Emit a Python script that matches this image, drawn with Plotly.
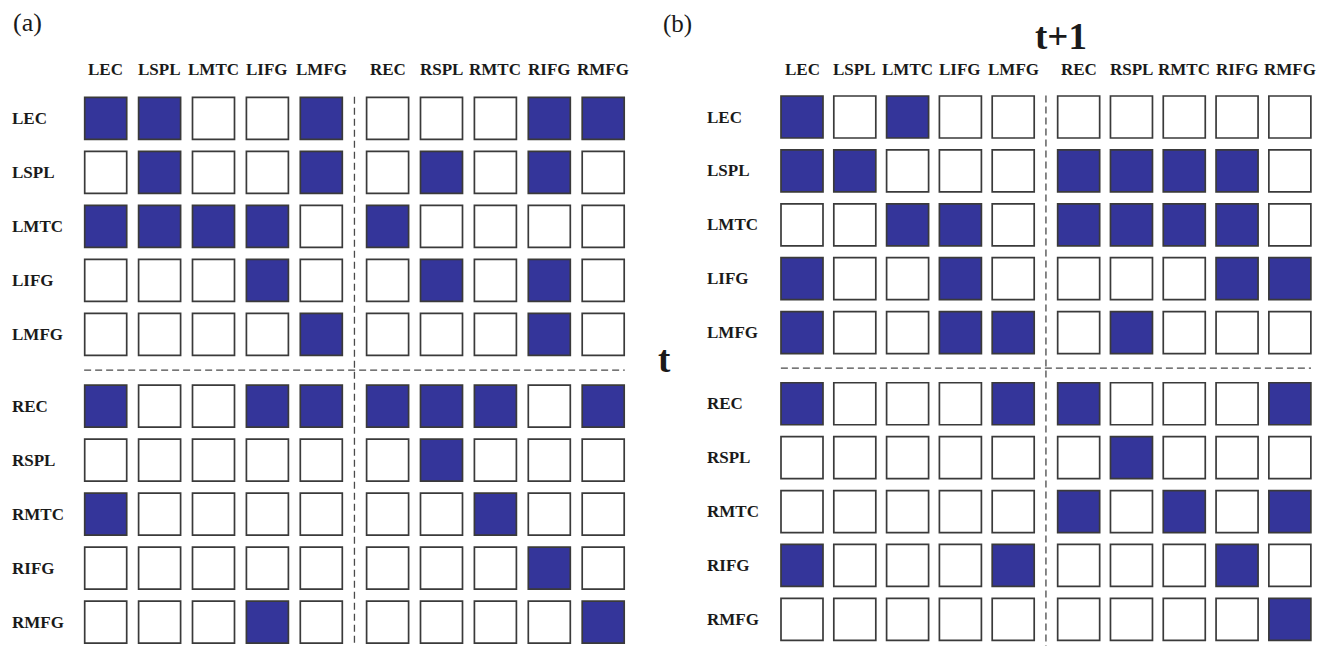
import plotly.graph_objects as go

# ---------------- data ----------------
regions = ["LEC", "LSPL", "LMTC", "LIFG", "LMFG", "REC", "RSPL", "RMTC", "RIFG", "RMFG"]

# panel (a): rows = source region, cols = target region (1 = connection)
conn_a = [
    [1, 1, 0, 0, 1, 0, 0, 0, 1, 1],
    [0, 1, 0, 0, 1, 0, 1, 0, 1, 0],
    [1, 1, 1, 1, 0, 1, 0, 0, 0, 0],
    [0, 0, 0, 1, 0, 0, 1, 0, 1, 0],
    [0, 0, 0, 0, 1, 0, 0, 0, 1, 0],
    [1, 0, 0, 1, 1, 1, 1, 1, 0, 1],
    [0, 0, 0, 0, 0, 0, 1, 0, 0, 0],
    [1, 0, 0, 0, 0, 0, 0, 1, 0, 0],
    [0, 0, 0, 0, 0, 0, 0, 0, 1, 0],
    [0, 0, 0, 1, 0, 0, 0, 0, 0, 1],
]

# panel (b): rows = time t, cols = time t+1
conn_b = [
    [1, 0, 1, 0, 0, 0, 0, 0, 0, 0],
    [1, 1, 0, 0, 0, 1, 1, 1, 1, 0],
    [0, 0, 1, 1, 0, 1, 1, 1, 1, 0],
    [1, 0, 0, 1, 0, 0, 0, 0, 1, 1],
    [1, 0, 0, 1, 1, 0, 1, 0, 0, 0],
    [1, 0, 0, 0, 1, 1, 0, 0, 0, 1],
    [0, 0, 0, 0, 0, 0, 1, 0, 0, 0],
    [0, 0, 0, 0, 0, 1, 0, 1, 0, 1],
    [1, 0, 0, 0, 1, 0, 0, 0, 1, 0],
    [0, 0, 0, 0, 0, 0, 0, 0, 0, 1],
]

panel_labels = ["(a)", "(b)"]
axis_title_top = "t+1"
axis_title_left = "t"

# ---------------- style / geometry ----------------
PAGE_W, PAGE_H = 1333, 646
OFF = 8                      # default body margin of the html page
W, H = PAGE_W - OFF, PAGE_H - OFF
FILL_ON = "#34359a"
FILL_OFF = "#ffffff"
EDGE = "#3a3a3a"
TXT = "#1a1a1a"
FONT = "Liberation Serif"
CELL = 42

def px_x(p):  # page pixel -> paper x
    return (p - OFF) / W

def px_y(p):  # page pixel -> paper y
    return 1 - (p - OFF) / H

# page-pixel geometry of each panel: first cell centre, pitch, extra gap between hemispheres
geo = {
    "a": dict(x0=105.7, px=53.9, xgap=0.23, y0=118.3, py=54.0, ygap=0.33, xa="x", ya="y", lab_x=10),
    "b": dict(x0=802.0, px=52.8, xgap=0.24, y0=117.0, py=53.9, ygap=0.32, xa="x2", ya="y2", lab_x=705),
}

fig = go.Figure()
annotations = []
shapes = []
n = len(regions)
lab_font = dict(family=FONT, size=17, color=TXT, weight="bold")

for key, mat in (("a", conn_a), ("b", conn_b)):
    g = geo[key]
    col_pos = [j + (g["xgap"] if j >= 5 else 0) for j in range(n)]
    row_pos = [i + (g["ygap"] if i >= 5 else 0) for i in range(n)]
    xs, ys, cols = [], [], []
    for i in range(n):
        for j in range(n):
            xs.append(col_pos[j])
            ys.append(row_pos[i])
            cols.append(FILL_ON if mat[i][j] else FILL_OFF)
    fig.add_trace(go.Scatter(
        x=xs, y=ys, mode="markers", xaxis=g["xa"], yaxis=g["ya"],
        marker=dict(symbol="square", size=CELL, color=cols,
                    line=dict(color=EDGE, width=1.7)),
        hoverinfo="skip", showlegend=False,
    ))
    # column headers
    for j, r in enumerate(regions):
        annotations.append(dict(x=col_pos[j], xref=g["xa"], y=px_y(70), yref="paper",
                                text=r, showarrow=False, xanchor="center", yanchor="middle",
                                font=lab_font))
    # row labels
    for i, r in enumerate(regions):
        annotations.append(dict(x=px_x(g["lab_x"]), xref="paper", y=row_pos[i], yref=g["ya"],
                                text=r, showarrow=False, xanchor="left", yanchor="middle",
                                font=lab_font))
    # hemisphere separators
    xmid = (col_pos[4] + col_pos[5]) / 2
    ymid = (row_pos[4] + row_pos[5]) / 2
    ybottom = (PAGE_H - g["y0"]) / g["py"]
    shapes.append(dict(type="line", xref=g["xa"], yref=g["ya"], x0=xmid, x1=xmid,
                       y0=-0.4, y1=ybottom, line=dict(color="#4a4a4a", width=1.3, dash="7px,4px")))
    shapes.append(dict(type="line", xref=g["xa"], yref=g["ya"], x0=col_pos[0] - 0.4, x1=col_pos[-1] + 0.4,
                       y0=ymid, y1=ymid, line=dict(color="#4a4a4a", width=1.3, dash="7px,4px")))

# panel labels and time titles
annotations.append(dict(x=px_x(27), y=px_y(22), xref="paper", yref="paper", text=panel_labels[0],
                        showarrow=False, xanchor="center", yanchor="middle",
                        font=dict(family=FONT, size=26, color=TXT)))
annotations.append(dict(x=px_x(677), y=1, xref="paper", yref="paper", text=panel_labels[1],
                        showarrow=False, xanchor="center", yanchor="top",
                        font=dict(family=FONT, size=25, color=TXT)))
annotations.append(dict(x=px_x(1061), y=px_y(37), xref="paper", yref="paper", text=axis_title_top,
                        showarrow=False, xanchor="center", yanchor="middle",
                        font=dict(family=FONT, size=37, color=TXT, weight="bold")))
annotations.append(dict(x=px_x(664), y=px_y(359), xref="paper", yref="paper", text=axis_title_left,
                        showarrow=False, xanchor="center", yanchor="middle",
                        font=dict(family=FONT, size=37, color=TXT, weight="bold")))

def xr(g):
    x0 = g["x0"] - OFF
    return [-x0 / g["px"], (W - x0) / g["px"]]

def yr(g):
    y0 = g["y0"] - OFF
    return [(H - y0) / g["py"], -y0 / g["py"]]

ax_common = dict(visible=False, showgrid=False, zeroline=False, fixedrange=True)
fig.update_layout(
    width=W, height=H,
    margin=dict(l=0, r=0, t=0, b=0),
    paper_bgcolor="white", plot_bgcolor="white",
    xaxis=dict(domain=[0, 1], range=xr(geo["a"]), **ax_common),
    yaxis=dict(domain=[0, 1], range=yr(geo["a"]), **ax_common),
    xaxis2=dict(domain=[0, 1], range=xr(geo["b"]), overlaying="x", **ax_common),
    yaxis2=dict(domain=[0, 1], range=yr(geo["b"]), overlaying="y", **ax_common),
    annotations=annotations,
    shapes=shapes,
    showlegend=False,
)

fig.write_html("out.html", config={"displayModeBar": False})
